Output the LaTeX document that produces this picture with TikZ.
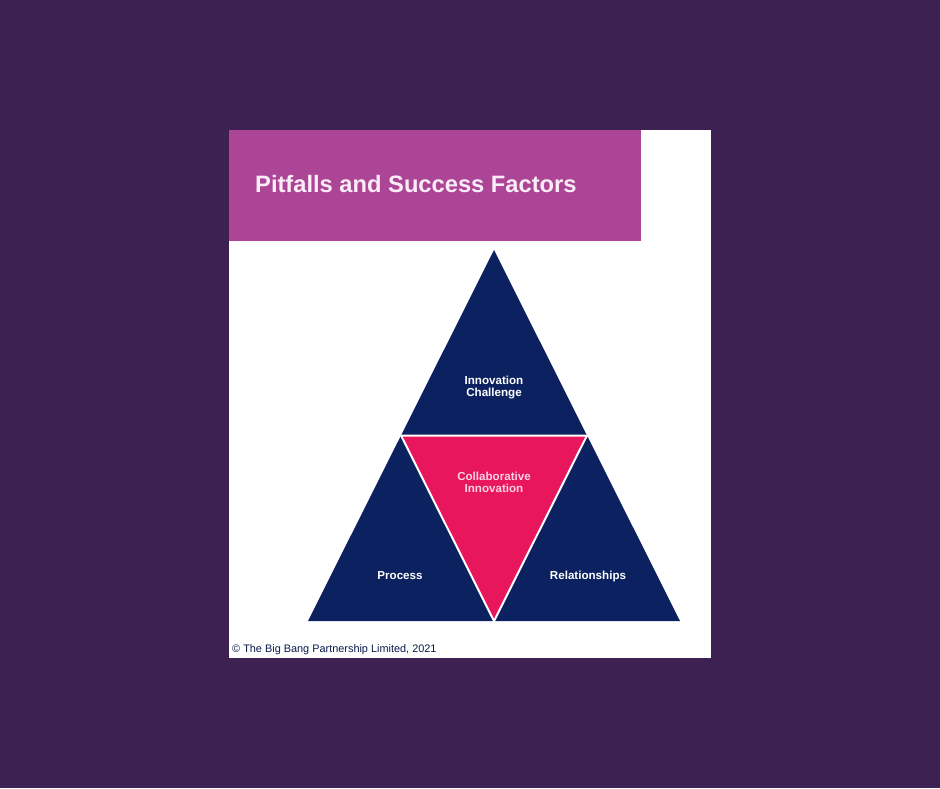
\documentclass[tikz,border=0pt]{standalone}
\usepackage{fontspec}
\setmainfont{Liberation Sans}
\usepackage{tikz}
\usetikzlibrary{calc}
\definecolor{PlumBack}{HTML}{3D2152}
\definecolor{BannerPink}{HTML}{AD4597}
\definecolor{DeepNavy}{HTML}{0C2260}
\definecolor{HotPink}{HTML}{E8175D}
\definecolor{SoftPink}{HTML}{F9D3E4}
\definecolor{TitleWhite}{HTML}{FBEDF7}

\begin{document}
\begin{tikzpicture}[x=1pt, y=-1pt, every node/.style={font=\bfseries\fontsize{11.6}{12}\selectfont}]
  \tikzstyle{label}=[text=white, align=center, inner sep=0pt]
  \tikzstyle{piece}=[fill=DeepNavy]
  % background and card
  \fill[PlumBack] (0,0) rectangle (940,788);
  \useasboundingbox (0,0) rectangle (940,788);
  \fill[white] (229,130) rectangle (711,658);
  \fill[BannerPink] (229,130) rectangle (641,241);
  \node[anchor=base west, text=TitleWhite, inner sep=0pt,
    font=\bfseries\fontsize{23.7}{28}\selectfont] (title) at (255,192) {Pitfalls and Success Factors};
  % triangle corners
  \coordinate (apex) at (494,250);
  \coordinate (bl) at (308,621);
  \coordinate (br) at (680,621);
  \coordinate (ml) at ($(apex)!0.5!(bl)$);
  \coordinate (mr) at ($(apex)!0.5!(br)$);
  \coordinate (mb) at ($(bl)!0.5!(br)$);
  \fill[piece] (apex) -- (bl) -- (br) -- cycle;
  \draw[fill=HotPink, draw=white, line width=2pt, line join=round] (ml) -- (mr) -- (mb) -- cycle;
  % labels
  \node[label] (challenge) at (494,388) {Innovation\\Challenge};
  \node[label, text=SoftPink] (collab) at (494,482) {Collaborative\\Innovation};
  \node[label] (process) at (400,576) {Process};
  \node[label] (relations) at (588,576) {Relationships};
  \node[anchor=base west, inner sep=0pt, text=DeepNavy!80!black,
    font=\fontsize{10.9}{12}\selectfont] (copy) at (232,652) {© The Big Bang Partnership Limited, 2021};
\end{tikzpicture}
\end{document}
